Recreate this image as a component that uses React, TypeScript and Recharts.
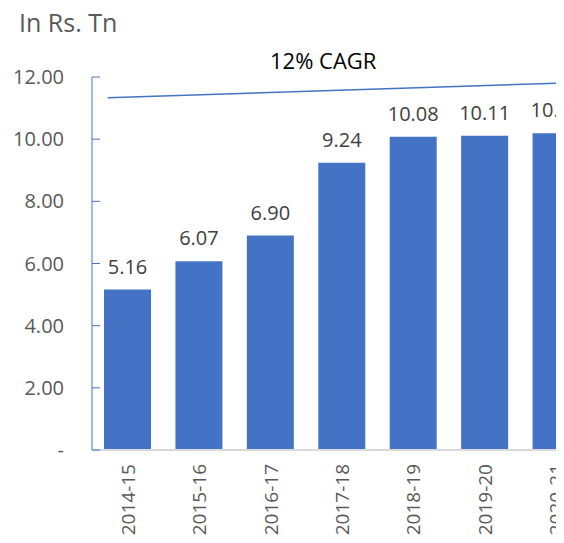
import React from 'react';
import { ComposedChart, Bar, Line, XAxis, YAxis, LabelList } from 'recharts';

const years = ['2014-15', '2015-16', '2016-17', '2017-18', '2018-19', '2019-20', '2020-21'];
const values = [5.16, 6.07, 6.9, 9.24, 10.08, 10.11, 10.19];
const yTicks = [0, 2, 4, 6, 8, 10, 12];
// trend line, x in category units from the axis start
const cagrX = [0.22, 7];
const cagrY = [11.33, 11.84];

const data = years.map((year, i) => ({ year, value: values[i] }));
const cagrData = cagrX.map((x, i) => ({ x, y: cagrY[i] }));

const FONT = '"Open Sans", sans-serif';
const GREY = '#595959';

const XTick = ({ x, y, payload }: any) => (
  <text
    x={x}
    y={y}
    transform={`rotate(-90, ${x}, ${y})`}
    textAnchor="end"
    dy={7}
    dx={-6}
    fontSize={19}
    fontFamily={FONT}
    fill={GREY}
  >
    {payload.value}
  </text>
);

const App: React.FC = () => {
  return (
    <div style={{ width: 564, height: 543, overflow: 'hidden', margin: -8, position: 'relative' }}>
      <div
        style={{ position: 'absolute', left: 19, top: 5, fontFamily: FONT, fontSize: 25, color: GREY }}
      >
        In Rs. Tn
      </div>
      <div
        style={{ position: 'absolute', left: 270, top: 45, fontFamily: FONT, fontSize: 22, color: '#000' }}
      >
        12% CAGR
      </div>
      <ComposedChart
        width={600}
        height={543}
        data={data}
        margin={{ top: 77, right: 8, left: 0, bottom: 0 }}
      >
        <XAxis
          dataKey="year"
          xAxisId="cat"
          height={93}
          axisLine={{ stroke: '#D9D9D9', strokeWidth: 2 }}
          tickLine={false}
          tick={<XTick />}
          interval={0}
        />
        <XAxis xAxisId="line" type="number" dataKey="x" domain={[0, 7]} hide />
        <YAxis
          width={92}
          domain={[0, 12]}
          ticks={yTicks}
          interval={0}
          axisLine={{ stroke: '#4472C4' }}
          tickLine={{ stroke: '#4472C4' }}
          tickSize={-8}
          tickMargin={36}
          tickFormatter={(v: number) => (v === 0 ? '-' : v.toFixed(2))}
          tick={{ fontSize: 20, fontFamily: FONT, fill: GREY }}
        />
        <Bar dataKey="value" xAxisId="cat" fill="#4472C4" barSize={47} isAnimationActive={false}>
          <LabelList
            dataKey="value"
            position="top"
            offset={16}
            formatter={(v: any) => Number(v).toFixed(2)}
            style={{ fontSize: 20, fontFamily: FONT, fill: '#404040' }}
          />
        </Bar>
        <Line
          data={cagrData}
          xAxisId="line"
          dataKey="y"
          stroke="#4472C4"
          strokeWidth={1.5}
          dot={false}
          isAnimationActive={false}
        />
      </ComposedChart>
    </div>
  );
};

export default App;
